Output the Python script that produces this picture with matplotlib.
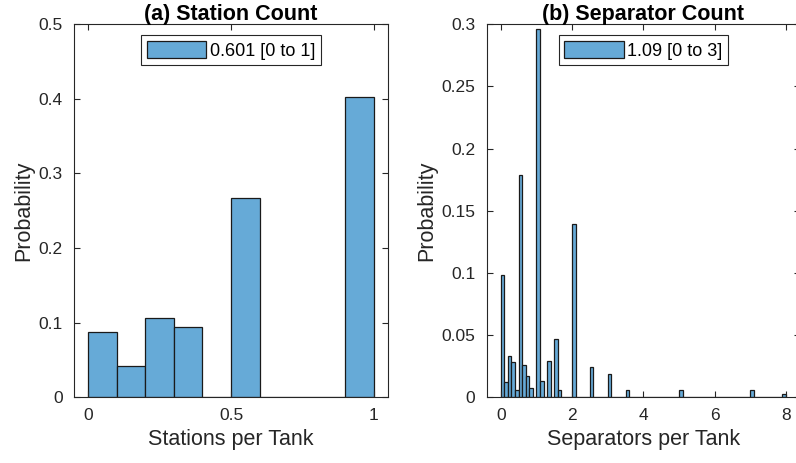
import numpy as np
import matplotlib.pyplot as plt

# station count histogram: 10 bins of width 0.1 on [0, 1]
station_edges = np.linspace(0, 1, 11)
station_prob = [0.0871, 0.0424, 0.1060, 0.0947, 0.0, 0.2676, 0.0, 0.0, 0.0, 0.4020]
station_label = "0.601 [0 to 1]"

# separator count histogram: 80 bins of width 0.1 on [0, 8]
sep_edges = np.linspace(0, 8, 81)
sep_nonzero = {
    0: 0.0984, 1: 0.0124, 2: 0.0333, 3: 0.0280, 4: 0.0056, 5: 0.1790,
    6: 0.0260, 7: 0.0170, 8: 0.0075, 10: 0.2960, 11: 0.0130, 13: 0.0290,
    15: 0.0470, 16: 0.0056, 20: 0.1395, 25: 0.0245, 30: 0.0190, 35: 0.0062,
    50: 0.0056, 70: 0.0056, 79: 0.0030,
}
sep_label = "1.09 [0 to 3]"

BAR = "#66aad7"
EDGE = "#1a1a1a"
AX = "#262626"

plt.rcParams['font.family'] = ['Liberation Sans', 'DejaVu Sans']

fig = plt.figure(figsize=(7.96, 4.63), dpi=100)
ax1 = fig.add_axes([0.093, 0.142, 0.3945, 0.8055])
ax2 = fig.add_axes([0.6112, 0.142, 0.394, 0.8055])


def style(ax):
    for s in ax.spines.values():
        s.set_color(AX)
        s.set_linewidth(0.8)
    ax.tick_params(direction="in", top=True, right=True, colors=AX,
                   labelsize=12.5, length=4, width=0.8, pad=8)


def hist(ax, edges, probs, label):
    widths = np.diff(edges)
    ax.bar(edges[:-1], probs, width=widths, align="edge", color=BAR,
           edgecolor=EDGE, linewidth=0.9, label=label)


sep_prob = np.zeros(80)
for i, v in sep_nonzero.items():
    sep_prob[i] = v

hist(ax1, station_edges, station_prob, station_label)
ax1.set_xlim(-0.05, 1.05)
ax1.set_ylim(0, 0.5)
ax1.set_xticks([0, 0.5, 1])
ax1.set_xticklabels(["0", "0.5", "1"])
ax1.set_yticks(np.arange(0, 0.51, 0.1))
ax1.set_yticklabels(["0", "0.1", "0.2", "0.3", "0.4", "0.5"])
ax1.set_title("(a) Station Count", fontsize=15.5, fontweight="bold", pad=3)

hist(ax2, sep_edges, sep_prob, sep_label)
ax2.set_xlim(-0.4, 8.4)
ax2.set_ylim(0, 0.3)
ax2.set_xticks([0, 2, 4, 6, 8])
ax2.set_yticks(np.arange(0, 0.31, 0.05))
ax2.set_yticklabels(["0", "0.05", "0.1", "0.15", "0.2", "0.25", "0.3"])
ax2.set_title("(b) Separator Count", fontsize=15.5, fontweight="bold", pad=3)

for ax, xl in ((ax1, "Stations per Tank"), (ax2, "Separators per Tank")):
    style(ax)
    ax.set_xlabel(xl, fontsize=15.5, color=AX, labelpad=4)
    ax.set_ylabel("Probability", fontsize=15.5, color=AX, labelpad=3)
    leg = ax.legend(loc="upper center", bbox_to_anchor=(0.5, 0.98),
                    fontsize=13, fancybox=False, framealpha=1,
                    edgecolor=AX, handlelength=3.3, handleheight=1.1,
                    handletextpad=0.2, borderpad=0.3, borderaxespad=0.2)
    leg.get_frame().set_linewidth(0.8)

fig.savefig("out.png", dpi=100)
